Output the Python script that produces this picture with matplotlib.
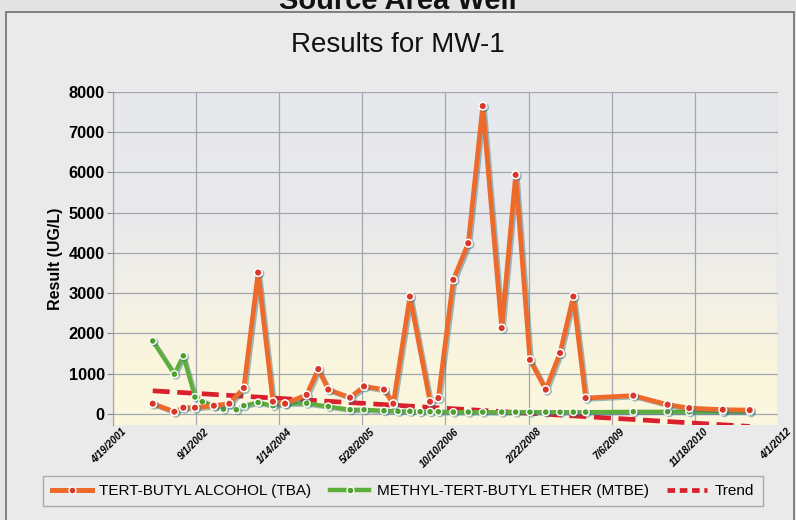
import matplotlib
matplotlib.use("Agg")
import matplotlib.pyplot as plt
import matplotlib.dates as mdates
import matplotlib.patheffects as pe
from matplotlib.patches import Rectangle
from matplotlib.lines import Line2D
from matplotlib.colors import LinearSegmentedColormap
import numpy as np
import pandas as pd

plt.rcParams['font.family'] = ['Liberation Sans', 'DejaVu Sans']

# values
tba_dates = ["2001-12-14", "2002-04-23", "2002-06-16", "2002-08-25", "2002-12-17",
             "2003-03-20", "2003-06-15", "2003-09-09", "2003-12-07", "2004-02-18",
             "2004-06-27", "2004-09-05", "2004-11-04", "2005-03-15", "2005-06-07",
             "2005-10-05", "2005-11-30", "2006-03-10", "2006-07-09", "2006-08-28",
             "2006-11-26", "2007-02-24", "2007-05-22", "2007-09-13", "2007-12-06",
             "2008-03-01", "2008-06-04", "2008-08-29", "2008-11-17", "2009-01-30",
             "2009-11-13", "2010-06-07", "2010-10-15", "2011-05-05", "2011-10-14"]
tba_values = [250, 50, 150, 150, 200,
              250, 640, 3510, 300, 250,
              470, 1110, 600, 400, 680,
              600, 250, 2915, 300, 390,
              3330, 4240, 7650, 2130, 5940,
              1340, 600, 1510, 2915, 390,
              450, 225, 140, 100, 90]

mtbe_dates = ["2001-12-14", "2002-04-23", "2002-06-16", "2002-08-25", "2002-10-08",
              "2002-12-17", "2003-02-12", "2003-03-20", "2003-05-01", "2003-06-15",
              "2003-09-09", "2003-12-07", "2004-02-18", "2004-06-27", "2004-11-04",
              "2005-03-15", "2005-06-07", "2005-10-05", "2005-12-28", "2006-03-10",
              "2006-05-10", "2006-07-09", "2006-08-28", "2006-11-26", "2007-02-24",
              "2007-05-22", "2007-09-13", "2007-12-06", "2008-03-01", "2008-06-04",
              "2008-08-29", "2008-11-17", "2009-01-30", "2009-11-13", "2010-06-07",
              "2010-10-15", "2011-05-05", "2011-10-14"]
mtbe_values = [1810, 985, 1440, 415, 300,
               200, 115, 250, 100, 200,
               280, 200, 250, 260, 180,
               100, 100, 75, 60, 60,
               50, 50, 50, 40, 40,
               40, 40, 40, 40, 40,
               40, 40, 40, 50, 50,
               50, 50, 50]

trend_dates = ["2001-12-14", "2011-10-14"]
trend_values = [570, -315]

tick_labels = ["4/19/2001", "9/1/2002", "1/14/2004", "5/28/2005", "10/10/2006",
               "2/22/2008", "7/6/2009", "11/18/2010", "4/1/2012"]
y_ticks = [0, 1000, 2000, 3000, 4000, 5000, 6000, 7000, 8000]

tba_x = pd.to_datetime(tba_dates)
mtbe_x = pd.to_datetime(mtbe_dates)
trend_x = pd.to_datetime(trend_dates)
tick_x = pd.to_datetime(tick_labels, format="%m/%d/%Y")

fig = plt.figure(figsize=(7.96, 5.20), dpi=100)
fig.patch.set_facecolor('#E4E4E4')

# chart frame
frame = Rectangle((6 / 796, -0.01), 788 / 796, 1 - 12 / 520 + 0.01,
                  transform=fig.transFigure, facecolor='#EAEAEA',
                  edgecolor='#6E6E6E', linewidth=1.2, zorder=-10)
fig.patches.append(frame)

fig.text(0.5, 1 - 9 / 520, "Source Area Well", ha='center', va='baseline',
         fontsize=21, fontweight='bold', color='#111111')
fig.text(0.5, 1 - 45 / 520, "Results for MW-1", ha='center', va='center',
         fontsize=20, color='#111111')

ax = fig.add_axes([113 / 796, 1 - 425 / 520, 665 / 796, 333 / 520])
ax.set_zorder(1)
ymin, ymax = -280, 8000
xmin, xmax = mdates.date2num(tick_x[0]), mdates.date2num(tick_x[-1])
ax.patch.set_alpha(0)

# plot-area gradient: light grey at top fading to cream at the bottom
cmap = LinearSegmentedColormap.from_list(
    'bg', [(0.0, '#FCF8E0'), (0.2, '#FAF5DD'), (0.38, '#F2F0E6'), (0.6, '#EAEAEC'), (1.0, '#E7E8EB')])
grad = np.linspace(0, 1, 256).reshape(-1, 1)
ax.imshow(grad, cmap=cmap, origin='lower', aspect='auto',
          extent=[xmin, xmax, ymin, ymax], zorder=0)
ax.set_xlim(tick_x[0], tick_x[-1])
ax.set_ylim(ymin, ymax)

ax.set_xticks(tick_x)
ax.set_xticklabels(tick_labels, rotation=45, ha='right', rotation_mode='anchor',
                   fontsize=7.2, fontstyle='italic', fontweight='bold')
ax.set_yticks(y_ticks)
ax.set_yticklabels([str(v) for v in y_ticks], fontsize=11.8, fontweight='bold')
ax.tick_params(axis='x', length=0, pad=1)
ax.tick_params(axis='y', length=4, color='#888888', pad=2)
for lbl in ax.get_xticklabels():
    lbl.set_transform(lbl.get_transform() + matplotlib.transforms.ScaledTranslation(
        8 / 100, 0, fig.dpi_scale_trans))
ax.grid(True, color='#A2A6AE', linewidth=0.9, zorder=1)
ax.set_axisbelow(False)
for s in ['top', 'right', 'bottom']:
    ax.spines[s].set_visible(False)
ax.spines['left'].set_color('#8A8A8A')
ax.set_ylabel("Result (UG/L)", fontsize=11.5, fontweight='bold', labelpad=4)

shadow = [pe.SimpleLineShadow(offset=(1.2, -1.0), shadow_color='#2F6F86', alpha=0.45),
          pe.Normal()]

ax.plot(trend_x, trend_values, color='#D9202C', linewidth=3.4,
        dashes=(3.6, 1.6), zorder=3, solid_capstyle='butt')
ax.plot(mtbe_x, mtbe_values, color='#5DAE3A', linewidth=3.0, marker='o',
        markersize=5, markerfacecolor='#4E9E2E', markeredgecolor='white',
        markeredgewidth=1.0, zorder=4, path_effects=shadow)
ax.plot(tba_x, tba_values, color='#EE6A2A', linewidth=3.4, marker='o',
        markersize=5.5, markerfacecolor='#D8372A', markeredgecolor='white',
        markeredgewidth=1.1, zorder=5, path_effects=shadow)

handles = [
    Line2D([], [], color='#EE6A2A', linewidth=3.6, marker='o', markersize=5,
           markerfacecolor='#D8372A', markeredgecolor='white'),
    Line2D([], [], color='#5DAE3A', linewidth=3.2, marker='o', markersize=5,
           markerfacecolor='#4E9E2E', markeredgecolor='white'),
    Line2D([], [], color='#D9202C', linewidth=3.4, dashes=(1.6, 1.0)),
]
leg = fig.legend(handles, ["TERT-BUTYL ALCOHOL (TBA)", "METHYL-TERT-BUTYL ETHER (MTBE)", "Trend"],
                 loc='center', bbox_to_anchor=(403 / 796, 1 - 491 / 520), ncol=3,
                 fontsize=11, frameon=True, fancybox=False, handlelength=2.6,
                 handletextpad=0.5, columnspacing=1.2, borderpad=0.55)
leg.get_frame().set_edgecolor('#9A9A9A')
leg.get_frame().set_facecolor('#ECECEC')
leg.get_frame().set_linewidth(1.0)

fig.savefig("out.png", dpi=100, facecolor=fig.get_facecolor())
